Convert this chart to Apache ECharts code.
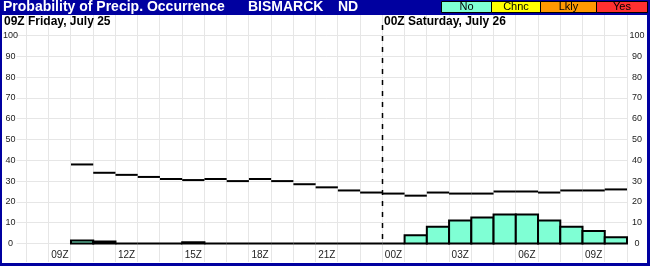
<!DOCTYPE html>
<html><head><meta charset="utf-8">
<script src="https://cdn.jsdelivr.net/npm/echarts@6/dist/echarts.min.js"></script>
<style>html,body{margin:0;padding:0;background:#fff}#c{width:650px;height:266px}</style>
</head><body><div id="c"></div>
<script>
// hourly slots: 08Z Fri Jul 25 .. 10Z Sat Jul 26
const categories = ['F08','F09','F10','F11','F12','F13','F14','F15','F16','F17','F18','F19','F20','F21','F22','F23',
                    'S00','S01','S02','S03','S04','S05','S06','S07','S08','S09','S10'];
const hourLabels = ['','09Z','','','12Z','','','15Z','','','18Z','','','21Z','','',
                    '00Z','','','03Z','','','06Z','','','09Z',''];
// "No" probability bars (%)
const noPct = [null,null,1.5,1,0,0,0,0.6,0,0,0,0,0,0,0,0,0,4,8,11,12.5,14,14,11,8,6,3];
// black step segments (%)
const linePct = [null,null,38,34,33,32,31,30.5,31,30,31,30,28.5,27,25.5,24.5,24,23,24.5,24,24,25,25,24.5,25.5,25.5,26];
const dayLabels = ['09Z Friday, July 25','00Z Saturday, July 26'];
const dayBreakIndex = 16;
const legendNames = ['No','Chnc','Lkly','Yes'];
const legendColors = ['#7fffd4','#ffff00','#ff9900','#ff3030'];
const titleText = 'Probability of Precip. Occurrence';
const stationText = 'BISMARCK';
const stateText = 'ND';

const FONT = '"Liberation Sans", Arial, sans-serif';
const GRID = '#e6e6e6';
const BLUE = '#0000a0';

const chart = echarts.init(document.getElementById('c'), null, {renderer:'canvas'});

const legendX = [441, 491, 540, 596, 647];
const graphics = [
  {type:'rect', shape:{x:0,y:0,width:650,height:15}, style:{fill:BLUE}, z:100},
  {type:'rect', shape:{x:0,y:0,width:2,height:266}, style:{fill:BLUE}, z:100},
  {type:'rect', shape:{x:647,y:0,width:3,height:266}, style:{fill:BLUE}, z:100},
  {type:'rect', shape:{x:0,y:263,width:650,height:3}, style:{fill:BLUE}, z:100},
  {type:'text', x:3, y:7.5, style:{text:titleText, fill:'#fff', font:'bold 14px '+FONT, verticalAlign:'middle'}, z:101},
  {type:'text', x:248, y:7.5, style:{text:stationText, fill:'#fff', font:'bold 14px '+FONT, verticalAlign:'middle'}, z:101},
  {type:'text', x:338, y:7.5, style:{text:stateText, fill:'#fff', font:'bold 14px '+FONT, verticalAlign:'middle'}, z:101},
  {type:'text', x:4, y:22, style:{text:dayLabels[0], fill:'#000', font:'bold 12px '+FONT, verticalAlign:'middle'}, z:101}
];
legendNames.forEach((n, i) => {
  const x0 = legendX[i], x1 = legendX[i+1];
  graphics.push({type:'rect', shape:{x:x0+0.5, y:1.5, width:x1-x0, height:11}, style:{fill:legendColors[i], stroke:'#000', lineWidth:1}, z:102});
  graphics.push({type:'text', x:(x0+x1)/2+0.5, y:7, style:{text:n, fill:'#000', font:'11px '+FONT, align:'center', verticalAlign:'middle'}, z:103});
});

const toPairs = arr => arr.map((v,i) => v == null ? null : [i, v]).filter(d => d);

chart.setOption({
  backgroundColor:'#fff',
  animation:false,
  graphic: graphics,
  grid:[
    {left:26, right:23, top:35.5, bottom:22.5},
    {left:26, right:23, top:15, bottom:4}
  ],
  xAxis:[
    {type:'category', gridIndex:0, data:categories, boundaryGap:true,
     axisLine:{show:false}, axisTick:{show:false}, splitLine:{show:false},
     axisLabel:{interval:(i)=>hourLabels[i] !== '', formatter:(v,i)=>hourLabels[i], fontSize:10, fontFamily:FONT, color:'#222', margin:7}},
    {type:'category', gridIndex:1, data:categories, boundaryGap:true,
     axisLine:{show:false}, axisTick:{show:false}, axisLabel:{show:false},
     splitLine:{show:true, interval:0, lineStyle:{color:GRID, width:1}}}
  ],
  yAxis:[
    {type:'value', gridIndex:0, min:0, max:100, interval:10, position:'left',
     axisLine:{show:false}, axisTick:{show:true, length:10, lineStyle:{color:GRID}},
     splitLine:{show:true, lineStyle:{color:GRID, width:1}},
     axisLabel:{fontSize:9, fontFamily:FONT, color:'#222', margin:16, align:'center'}},
    {type:'value', gridIndex:0, min:0, max:100, interval:10, position:'right',
     axisLine:{show:false}, axisTick:{show:false}, splitLine:{show:false},
     axisLabel:{fontSize:9, fontFamily:FONT, color:'#222', margin:10, align:'center'}},
    {type:'value', gridIndex:1, min:0, max:1, show:false}
  ],
  series:[
    {type:'custom', xAxisIndex:0, yAxisIndex:0, z:3, data:toPairs(noPct),
     renderItem:(params, api) => {
       const k = api.value(0), v = api.value(1);
       const top = api.coord([k, v]), base = api.coord([k, 0]);
       const w = api.size([1, 0])[0];
       return {type:'rect', shape:{x:top[0]-w/2, y:top[1], width:w, height:base[1]-top[1]},
               style:{fill:legendColors[0], stroke:'#000', lineWidth:2}};
     }},
    {type:'custom', xAxisIndex:0, yAxisIndex:0, z:4, data:toPairs(linePct),
     renderItem:(params, api) => {
       const k = api.value(0), v = api.value(1);
       const p = api.coord([k, v]);
       const w = api.size([1, 0])[0];
       return {type:'line', shape:{x1:p[0]-w/2, y1:p[1], x2:p[0]+w/2, y2:p[1]},
               style:{stroke:'#000', lineWidth:2}};
     }},
    {type:'custom', xAxisIndex:0, yAxisIndex:0, z:5, data:[[dayBreakIndex, 105]],
     renderItem:(params, api) => {
       const k = api.value(0), top = api.value(1);
       const w = api.size([1, 0])[0];
       const pt = api.coord([k, top]), pb = api.coord([k, 0]);
       const x = Math.round(pt[0]-w/2) + 0.5;
       return {type:'group', children:[
         {type:'line', shape:{x1:x, y1:pt[1], x2:x, y2:pb[1]-3},
          style:{stroke:'#000', lineWidth:1.5, lineDash:[5,6]}},
         {type:'text', x:x+1.5, y:22, style:{text:dayLabels[1], fill:'#000', font:'bold 12px '+FONT, verticalAlign:'middle'}}
       ]};
     }}
  ]
});
</script></body></html>
